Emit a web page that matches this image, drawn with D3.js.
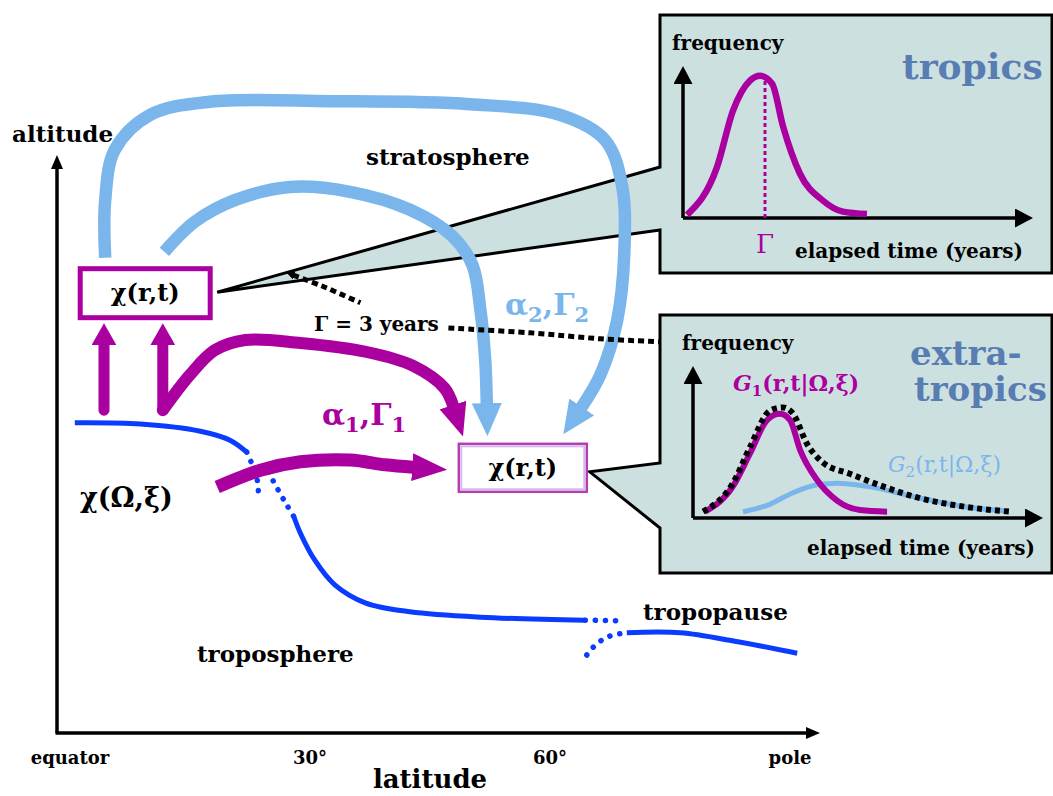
<!DOCTYPE html>
<html>
<head>
<meta charset="utf-8">
<script src="https://cdn.jsdelivr.net/npm/d3@7"></script>
<style>
  body { margin: 0; background: #fff; }
  svg text { font-family: "DejaVu Serif", serif; font-weight: bold; }
</style>
</head>
<body>
<svg id="chart" width="1053" height="796"></svg>
<script>
// ---- data: main schematic points are [latitude (deg), altitude (relative units)]
var latTicks = [0, 30, 60, 90];
var latTickNames = ['equator', '30°', '60°', 'pole'];

// tropopause, broken where it folds at the subtropical and polar jets
var tropoSolid = [
    [[0.6, 51.7], [8.8, 51.5], [16.3, 50.3], [20, 48.8], [22.1, 46.8]],
    [[28, 36], [28.8, 33.3], [30.6, 28.8], [33.1, 24.7], [36.9, 21.7], [42.5, 20.2], [51.3, 19.3], [64.4, 18.8]],
    [[69.6, 16.7], [76.3, 16.7], [83.1, 15.3], [90.9, 13.3]]
];
var tropoDotted = [
    [[22.1, 46.8], [22.9, 44.3], [23.4, 42.2], [23.6, 38.8]],
    [[24.8, 43.5], [25.9, 40.8], [27.1, 38], [28, 36]],
    [[64.4, 18.8], [68.8, 18.7]],
    [[64.6, 13], [65.4, 14.3], [66.5, 15.5], [67.8, 16.3], [69.6, 16.7]]
];

// stratospheric (light blue) transport paths
var deepBranch = [[4.4, 79.2], [4.4, 88.8], [5.6, 97.2], [10, 103], [17.5, 105.2], [32.5, 105.3], [50, 104.8],
    [61.3, 103], [66.9, 98.8], [69, 91.3], [69.3, 80.5], [68.4, 68.8], [66.3, 59.7], [63.9, 54.2]];
var shallowBranch = [[11.8, 80.2], [15.6, 85.2], [20.6, 88.8], [27.5, 91], [35, 90.2], [42.5, 87.2], [47.8, 82.8],
    [50.3, 78], [51.3, 70.5], [51.9, 62.2], [52.1, 54.8]];

// tropospheric (magenta) transport paths
var lowerBranch = [[11.6, 53.8], [15, 59.7], [18.1, 63.8], [21.9, 65.5], [28.8, 65], [37.1, 63.5], [42.9, 61.2],
    [46.8, 57.5], [47.9, 54.5]];
var troposphericBranch = [[18.4, 41], [23.8, 43.8], [28.8, 45.2], [35, 45.5], [39.4, 44.7], [42.9, 44.3]];
var upArrowLats = [4.25, 11.6];
var upArrowAlts = [53.8, 64.8];

// chi(r,t) boxes: tropical source region, extratropical sample
var boxCentres = [[9.4, 73.3], [56.6, 44.2]];

// leader from the tropics callout to the extratropics callout
var gammaLeader = [
    [[27.9, 76.3], [31.5, 74.5], [36.3, 71.7]],
    [[47.3, 67.5], [57.5, 66.7], [66.3, 65.7], [73.8, 65.2]]
];

// age spectra in the insets: [elapsed time (years), frequency]
var tropicsAge = [[0.15, 0.02], [1.24, 0.32], [1.83, 0.68], [2.45, 0.87], [2.82, 0.9], [3.26, 0.85], [3.66, 0.58],
    [4.28, 0.28], [5.12, 0.11], [5.85, 0.04], [6.73, 0.025]];
var meanAge = 3;
var extraG1 = [[0.44, 0.04], [1.46, 0.2], [2.09, 0.41], [2.71, 0.62], [3.18, 0.66], [3.55, 0.62], [3.92, 0.43],
    [4.54, 0.24], [5.27, 0.11], [6.11, 0.05], [7.1, 0.04]];
var extraG2 = [[1.83, 0.04], [2.71, 0.08], [3.66, 0.16], [4.54, 0.21], [5.27, 0.22], [6.37, 0.2], [8.2, 0.13],
    [10, 0.07], [11.5, 0.045]];
var extraSum = [[0.37, 0.04], [1.46, 0.22], [2.09, 0.45], [2.82, 0.68], [3.29, 0.7], [3.66, 0.66], [4.17, 0.47],
    [4.76, 0.35], [5.74, 0.28], [6.95, 0.2], [8.2, 0.13], [10, 0.07], [11.6, 0.04]];

// ---- styling
var magenta = '#aa00a0';
var skyBlue = '#7ab6eb';
var tropoBlue = '#0a3cff';
var panelFill = '#cde0e0';
var titleBlue = '#587db2';

var svg = d3.select('#chart');

var x = d3.scaleLinear().domain([0, 90]).range([70, 790]);
var y = d3.scaleLinear().domain([0, 100]).range([733, 133]);
var axisX = 57, axisTop = 155, axisRight = 820;

var line = d3.line()
    .x(function (d) { return x(d[0]); })
    .y(function (d) { return y(d[1]); })
    .curve(d3.curveCatmullRom);

/////////////////////////////
// arrow heads
/////////////////////////////
var defs = svg.append('defs');
function arrowMarker(id, color, len, halfW) {
    defs.append('marker')
        .attr('id', id)
        .attr('markerUnits', 'userSpaceOnUse')
        .attr('viewBox', '0 ' + (-halfW) + ' ' + len + ' ' + (2 * halfW))
        .attr('refX', 1).attr('refY', 0)
        .attr('markerWidth', len).attr('markerHeight', 2 * halfW)
        .attr('orient', 'auto-start-reverse')
        .append('path')
        .attr('d', 'M0,' + (-halfW) + 'L' + len + ',0L0,' + halfW + 'Z')
        .attr('fill', color);
}
arrowMarker('headAxis', '#000', 14, 6);
arrowMarker('headInset', '#000', 18, 9.5);
arrowMarker('headBlue', skyBlue, 33, 15);
arrowMarker('headMagBig', magenta, 33, 14);
arrowMarker('headMagUp', magenta, 22, 12.5);
arrowMarker('headMagLow', magenta, 35, 14);
arrowMarker('headSmall', '#000', 8, 4);

/////////////////////////////
// callout panels
/////////////////////////////
var boxW = [130, 128], boxH = [49, 48];
var tips = [
    [x(boxCentres[0][0]) + boxW[0] / 2 + 7, y(boxCentres[0][1]) - 1],
    [x(boxCentres[1][0]) + boxW[1] / 2 + 3, y(boxCentres[1][1]) + 4]
];
var panels = [
    { x0: 660, y0: 15, x1: 1052, y1: 273, gapTop: 167, gapBottom: 230 },
    { x0: 660, y0: 315, x1: 1052, y1: 573, gapTop: 463, gapBottom: 528 }
];
panels.forEach(function (p, i) {
    svg.append('path')
        .attr('d', 'M' + p.x0 + ',' + p.y0 + 'H' + p.x1 + 'V' + p.y1 + 'H' + p.x0 + 'V' + p.gapBottom +
            'L' + tips[i][0] + ',' + tips[i][1] + 'L' + p.x0 + ',' + p.gapTop + 'Z')
        .attr('fill', panelFill)
        .attr('stroke', '#000')
        .attr('stroke-width', 3);
});

// inset 1: tropics
var tx = d3.scaleLinear().domain([0, 12]).range([683, 1011]);
var ty = d3.scaleLinear().domain([0, 1]).range([218, 60]);
// inset 2: extratropics
var ex = d3.scaleLinear().domain([0, 12]).range([693, 1021]);
var ey = d3.scaleLinear().domain([0, 1]).range([518, 360]);

function insetAxes(sx, sy) {
    var ox = sx(0), oy = sy(0);
    svg.append('path')
        .attr('d', 'M' + ox + ',' + oy + 'V' + (oy - 152 + 17))
        .attr('stroke', '#000').attr('stroke-width', 3.5).attr('fill', 'none')
        .attr('marker-end', 'url(#headInset)');
    svg.append('path')
        .attr('d', 'M' + ox + ',' + oy + 'H' + (ox + 350 - 17))
        .attr('stroke', '#000').attr('stroke-width', 3.5).attr('fill', 'none')
        .attr('marker-end', 'url(#headInset)');
}
function insetLine(sx, sy) {
    return d3.line()
        .x(function (d) { return sx(d[0]); })
        .y(function (d) { return sy(d[1]); })
        .curve(d3.curveMonotoneX);
}

insetAxes(tx, ty);
svg.append('path')
    .attr('d', 'M' + tx(meanAge) + ',' + ty(0) + 'V' + ty(0.87))
    .attr('stroke', magenta).attr('stroke-width', 3).attr('stroke-dasharray', '4,3');
svg.append('path')
    .attr('d', insetLine(tx, ty)(tropicsAge))
    .attr('fill', 'none').attr('stroke', magenta).attr('stroke-width', 6.5).attr('stroke-linecap', 'butt');

insetAxes(ex, ey);
svg.append('path')
    .attr('d', insetLine(ex, ey)(extraG2))
    .attr('fill', 'none').attr('stroke', skyBlue).attr('stroke-width', 5);
svg.append('path')
    .attr('d', insetLine(ex, ey)(extraG1))
    .attr('fill', 'none').attr('stroke', magenta).attr('stroke-width', 6);
svg.append('path')
    .attr('d', insetLine(ex, ey)(extraSum))
    .attr('fill', 'none').attr('stroke', '#000').attr('stroke-width', 6).attr('stroke-dasharray', '5,4');

// inset texts
function txt(s, xp, yp, size, color, anchor, weight) {
    return svg.append('text')
        .attr('x', xp).attr('y', yp)
        .attr('font-size', size)
        .attr('fill', color || '#000')
        .attr('text-anchor', anchor || 'start')
        .style('font-weight', weight || 'bold')
        .text(s);
}
txt('frequency', 672, 50, 20);
txt('tropics', 902, 79, 36, titleBlue);
txt('Γ', tx(meanAge), 253, 26, magenta, 'middle', 'normal');
txt('elapsed time (years)', 795, 258, 20);

txt('frequency', 682, 350, 20);
txt('extra-', 910, 365, 34, titleBlue);
txt('tropics', 914, 401, 34, titleBlue);
txt('elapsed time (years)', 807, 555, 20);

function spectrumLabel(num, xp, yp, color, weight) {
    var t = svg.append('text').attr('x', xp).attr('y', yp).attr('font-size', 22)
        .attr('fill', color).style('font-weight', weight);
    t.append('tspan').style('font-style', 'italic').text('G');
    t.append('tspan').attr('font-size', 15).attr('dy', 5).text(num);
    t.append('tspan').attr('dy', -5).text('(r,t|Ω,ξ)');
}
spectrumLabel('1', 733, 391, magenta, 'bold');
spectrumLabel('2', 888, 472, skyBlue, 'normal');

/////////////////////////////
// main axes
/////////////////////////////
svg.append('path')
    .attr('d', 'M' + axisX + ',' + y(0) + 'V' + (axisTop + 13))
    .attr('stroke', '#000').attr('stroke-width', 3.5).attr('fill', 'none')
    .attr('marker-end', 'url(#headAxis)');
svg.append('path')
    .attr('d', 'M' + (axisX - 1.5) + ',' + y(0) + 'H' + (axisRight - 13))
    .attr('stroke', '#000').attr('stroke-width', 3.5).attr('fill', 'none')
    .attr('marker-end', 'url(#headAxis)');

svg.selectAll('text.tick')
    .data(latTicks)
    .enter().append('text')
    .attr('class', 'tick')
    .attr('x', function (d) { return x(d); })
    .attr('y', 764)
    .attr('text-anchor', 'middle')
    .attr('font-size', 18)
    .text(function (d, i) { return latTickNames[i]; });

txt('latitude', 430, 788, 26, '#000', 'middle');
txt('altitude', 12, 142, 23);

/////////////////////////////
// tropopause
/////////////////////////////
tropoSolid.forEach(function (seg) {
    svg.append('path').attr('d', line(seg))
        .attr('fill', 'none').attr('stroke', tropoBlue).attr('stroke-width', 5);
});
tropoDotted.forEach(function (seg) {
    svg.append('path').attr('d', line(seg))
        .attr('fill', 'none').attr('stroke', tropoBlue).attr('stroke-width', 5.5)
        .attr('stroke-linecap', 'round').attr('stroke-dasharray', '0.1,10');
});

/////////////////////////////
// transport arrows
/////////////////////////////
[deepBranch, shallowBranch].forEach(function (seg) {
    svg.append('path').attr('d', line(seg))
        .attr('fill', 'none').attr('stroke', skyBlue).attr('stroke-width', 12.5)
        .attr('marker-end', 'url(#headBlue)');
});

upArrowLats.forEach(function (lat) {
    svg.append('path')
        .attr('d', line([[lat, upArrowAlts[0]], [lat, upArrowAlts[1]]]))
        .attr('fill', 'none').attr('stroke', magenta).attr('stroke-width', 11)
        .attr('stroke-linecap', 'round')
        .attr('marker-end', 'url(#headMagUp)');
});
svg.append('path').attr('d', line(lowerBranch))
    .attr('fill', 'none').attr('stroke', magenta).attr('stroke-width', 12)
    .attr('stroke-linecap', 'round').attr('stroke-linejoin', 'round')
    .attr('marker-end', 'url(#headMagBig)');
svg.append('path').attr('d', line(troposphericBranch))
    .attr('fill', 'none').attr('stroke', magenta).attr('stroke-width', 13)
    .attr('marker-end', 'url(#headMagLow)');

// Gamma leader (dotted)
gammaLeader.forEach(function (seg, i) {
    var p = svg.append('path').attr('d', line(seg))
        .attr('fill', 'none').attr('stroke', '#000').attr('stroke-width', 5)
        .attr('stroke-dasharray', '6,4');
    if (i === 0) p.attr('marker-start', 'url(#headSmall)');
});
txt('Γ = 3 years', 314, 331, 20);

/////////////////////////////
// chi boxes
/////////////////////////////
var b0 = boxCentres[0], b1 = boxCentres[1];
svg.append('rect')
    .attr('x', x(b0[0]) - boxW[0] / 2).attr('y', y(b0[1]) - boxH[0] / 2)
    .attr('width', boxW[0]).attr('height', boxH[0])
    .attr('fill', '#fff').attr('stroke', magenta).attr('stroke-width', 5);
svg.append('rect')
    .attr('x', x(b1[0]) - boxW[1] / 2).attr('y', y(b1[1]) - boxH[1] / 2)
    .attr('width', boxW[1]).attr('height', boxH[1])
    .attr('fill', '#fff').attr('stroke', '#b340b3').attr('stroke-width', 2.5);
svg.append('rect')
    .attr('x', x(b1[0]) - boxW[1] / 2 + 2.5).attr('y', y(b1[1]) - boxH[1] / 2 + 2.5)
    .attr('width', boxW[1] - 5).attr('height', boxH[1] - 5)
    .attr('fill', 'none').attr('stroke', '#d8b6ee').attr('stroke-width', 2);

boxCentres.forEach(function (c) {
    txt('χ(r,t)', x(c[0]), y(c[1]) + 8, 24, '#000', 'middle');
});

/////////////////////////////
// region labels
/////////////////////////////
txt('stratosphere', 366, 165, 23);
txt('troposphere', 197, 662, 23);
txt('tropopause', 643, 620, 23);
txt('χ(Ω,ξ)', 80, 507, 27);

function transportLabel(num, xp, yp, color) {
    var t = svg.append('text').attr('x', xp).attr('y', yp).attr('font-size', 30).attr('fill', color);
    t.append('tspan').text('α');
    t.append('tspan').attr('font-size', 21).attr('dy', 7).text(num);
    t.append('tspan').attr('dy', -7).text(',Γ');
    t.append('tspan').attr('font-size', 21).attr('dy', 7).text(num);
}
transportLabel('1', 322, 425, magenta);
transportLabel('2', 505, 315, skyBlue);
</script>
</body>
</html>
